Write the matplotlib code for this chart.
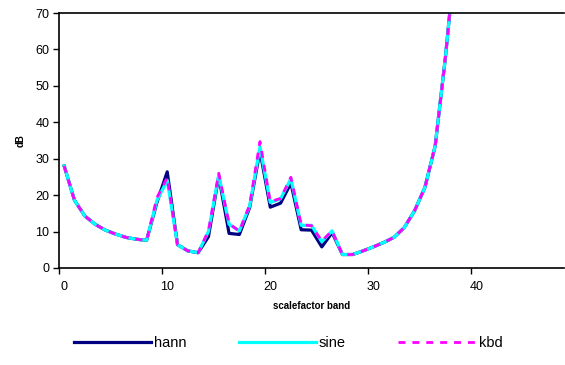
import matplotlib
matplotlib.use("Agg")
import matplotlib.pyplot as plt

bands = list(range(39))
hann = [28, 18.6, 14.3, 12.0, 10.4, 9.3, 8.4, 7.9, 7.6, 18.0,
        26.4, 6.4, 4.7, 4.2, 8.6, 25.2, 9.5, 9.2, 16.6, 32.2,
        16.7, 17.8, 23.3, 10.5, 10.4, 5.8, 9.7, 3.7, 3.7, 4.7,
        5.8, 7.0, 8.4, 11.1, 15.7, 22.1, 33.5, 58, 87]
sine = [28, 18.6, 14.3, 12.0, 10.4, 9.3, 8.4, 7.9, 7.6, 18.5,
        24.1, 6.4, 4.7, 4.2, 10.0, 25.5, 12.0, 10.2, 17.0, 33.3,
        18.0, 19.0, 24.5, 11.7, 11.7, 7.2, 10.2, 3.7, 3.7, 4.7,
        5.8, 7.0, 8.4, 11.1, 15.7, 22.1, 33.5, 58, 87]
kbd = [28, 18.6, 14.3, 12.0, 10.4, 9.3, 8.4, 7.9, 7.6, 19.3,
       24.8, 6.4, 4.7, 4.2, 10.2, 26.0, 12.2, 10.1, 17.3, 34.7,
       18.2, 19.1, 24.9, 11.9, 11.6, 7.4, 10.2, 3.7, 3.7, 4.7,
       5.8, 7.0, 8.4, 11.1, 15.7, 22.1, 33.5, 58, 87]
n_bands = 49
xlabels = [0, 10, 20, 30, 40]

plt.rcParams['font.family'] = ['Liberation Sans', 'DejaVu Sans']

fig = plt.figure(figsize=(5.65, 3.65), dpi=100)
ax = fig.add_axes([59 / 565, 1 - 268 / 365, 505 / 565, 255 / 365])

ax.plot(bands, hann, color='#000080', lw=2.3, label='hann')
ax.plot(bands, sine, color='#00FFFF', lw=2.3, label='sine')
ax.plot(bands, kbd, color='#FF00FF', lw=2.0, ls=(0, (2.5, 2.5)), label='kbd')

ax.set_xlim(-0.5, n_bands - 0.5)
ax.set_ylim(0, 70)
ax.set_yticks(range(0, 71, 10))
ax.set_xticks(xlabels)
ax.set_xticks([-0.5 + 10 * k for k in range(5)], minor=True)
ax.tick_params(axis='x', which='major', length=0, pad=9, labelsize=9)
ax.tick_params(axis='x', which='minor', length=4, width=1)
ax.tick_params(axis='y', length=4, width=1, labelsize=9, pad=3)

for s in ['left', 'bottom', 'top']:
    ax.spines[s].set_linewidth(1.2)
ax.spines['right'].set_visible(False)

ax.set_xlabel('scalefactor band', fontsize=7, fontweight='bold', labelpad=6)
ax.set_ylabel('dB', fontsize=7, fontweight='bold', labelpad=7)

fig.legend(loc='center', bbox_to_anchor=(288 / 565, 1 - 343 / 365), ncol=3,
           frameon=False, fontsize=10.5, handlelength=5.3, columnspacing=3.6,
           handletextpad=0.2)

fig.savefig('out.png', dpi=100)
